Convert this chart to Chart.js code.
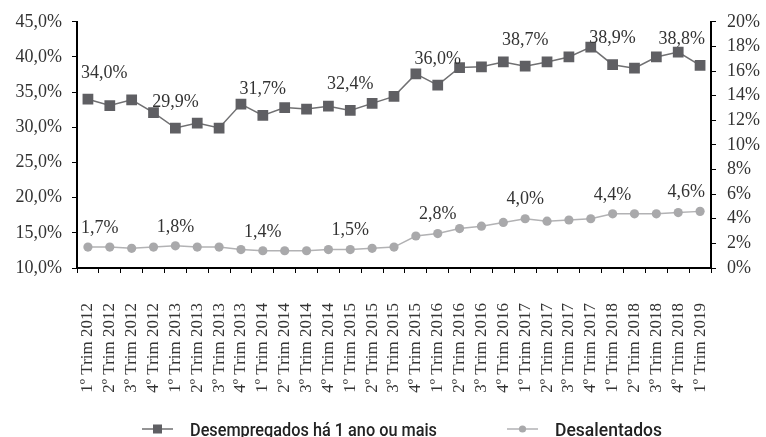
<!DOCTYPE html>
<html>
<head>
<meta charset="utf-8">
<script src="https://cdn.jsdelivr.net/npm/chart.js@4.4.1/dist/chart.umd.min.js"></script>
<style>
  html, body { margin: 0; padding: 0; background: #fff; }
  #wrap { width: 766px; height: 437px; }
</style>
</head>
<body>
<div id="wrap"><canvas id="chart" width="766" height="437"></canvas></div>
<script>
// quarters on the x axis
const categories = [
  "1º Trim 2012", "2º Trim 2012", "3º Trim 2012", "4º Trim 2012",
  "1º Trim 2013", "2º Trim 2013", "3º Trim 2013", "4º Trim 2013",
  "1º Trim 2014", "2º Trim 2014", "3º Trim 2014", "4º Trim 2014",
  "1º Trim 2015", "2º Trim 2015", "3º Trim 2015", "4º Trim 2015",
  "1º Trim 2016", "2º Trim 2016", "3º Trim 2016", "4º Trim 2016",
  "1º Trim 2017", "2º Trim 2017", "3º Trim 2017", "4º Trim 2017",
  "1º Trim 2018", "2º Trim 2018", "3º Trim 2018", "4º Trim 2018",
  "1º Trim 2019",
];

// left axis, %
const desempregados = [
  34.0, 33.1, 33.9, 32.1, 29.9, 30.6, 29.9, 33.3,
  31.7, 32.8, 32.6, 33.0, 32.4, 33.4, 34.4, 37.6,
  36.0, 38.5, 38.6, 39.3, 38.7, 39.3, 40.0, 41.4,
  38.9, 38.4, 40.0, 40.7, 38.8,
];

// right axis, %
const desalentados = [
  1.7, 1.7, 1.6, 1.7, 1.8, 1.7, 1.7, 1.5,
  1.4, 1.4, 1.4, 1.5, 1.5, 1.6, 1.7, 2.6,
  2.8, 3.2, 3.4, 3.7, 4.0, 3.8, 3.9, 4.0,
  4.4, 4.4, 4.4, 4.5, 4.6,
];

// points that carry a value label (first quarter of each year)
const labelledPoints = [0, 4, 8, 12, 16, 20, 24, 28];

const seriesNames = ["Desempregados há 1 ano ou mais", "Desalentados"];

const serif = "'Liberation Serif', 'Times New Roman', serif";
const textColor = "#333333";

function pct1(v) {
  return v.toFixed(1).replace(".", ",") + "%";
}

const valueLabels = {
  id: "valueLabels",
  afterDatasetsDraw(chart) {
    const ctx = chart.ctx;
    const area = chart.chartArea;
    const lift = [26, 19];
    ctx.save();
    ctx.font = "18px " + serif;
    ctx.fillStyle = textColor;
    ctx.textAlign = "center";
    ctx.textBaseline = "middle";
    chart.data.datasets.forEach((ds, i) => {
      const meta = chart.getDatasetMeta(i);
      labelledPoints.forEach((idx) => {
        const pt = meta.data[idx];
        const txt = pct1(ds.data[idx]);
        const w = ctx.measureText(txt).width;
        let x = pt.x;
        x = Math.max(x, area.left + 4 + w / 2);
        x = Math.min(x, area.right - 6 - w / 2);
        ctx.fillText(txt, x, pt.y - lift[i]);
      });
    });
    ctx.restore();
  },
};

// legend drawn under the axis labels: line + marker + name (condensed face)
const bottomLegend = {
  id: "bottomLegend",
  afterDraw(chart) {
    const ctx = chart.ctx;
    const starts = [142, 507];
    const textWidths = [247, 107];
    const y = 429;
    ctx.save();
    chart.data.datasets.forEach((ds, i) => {
      const x0 = starts[i];
      ctx.strokeStyle = ds.borderColor;
      ctx.lineWidth = 1.5;
      ctx.beginPath();
      ctx.moveTo(x0, y);
      ctx.lineTo(x0 + 31, y);
      ctx.stroke();
      ctx.fillStyle = ds.pointBackgroundColor;
      const cx = x0 + 15.5;
      if (ds.pointStyle === "rect") {
        ctx.fillRect(cx - 4.5, y - 4.5, 9, 9);
      } else {
        ctx.beginPath();
        ctx.arc(cx, y, 3.6, 0, Math.PI * 2);
        ctx.fill();
      }
      ctx.fillStyle = "#222222";
      ctx.font = "500 19px Roboto, sans-serif";
      ctx.textAlign = "left";
      ctx.textBaseline = "alphabetic";
      const w = ctx.measureText(ds.label).width;
      const sx = Math.min(1, textWidths[i] / w);
      ctx.save();
      ctx.translate(x0 + 48, 436);
      ctx.scale(sx, 1);
      ctx.fillText(ds.label, 0, 0);
      ctx.restore();
    });
    ctx.restore();
  },
};

const chart = new Chart("chart", {
  type: "line",
  data: {
    labels: categories,
    datasets: [
      {
        label: seriesNames[0],
        data: desempregados,
        yAxisID: "y",
        borderColor: "#707072",
        borderWidth: 1.5,
        pointStyle: "rect",
        pointRadius: 7.6,
        pointBackgroundColor: "#5f5f63",
        pointBorderColor: "#5f5f63",
        pointBorderWidth: 0,
        tension: 0,
      },
      {
        label: seriesNames[1],
        data: desalentados,
        yAxisID: "y1",
        borderColor: "#b2b2b4",
        borderWidth: 1.5,
        pointStyle: "circle",
        pointRadius: 4.6,
        pointBackgroundColor: "#a9a9ab",
        pointBorderColor: "#a9a9ab",
        pointBorderWidth: 0,
        tension: 0,
      },
    ],
  },
  options: {
    responsive: false,
    animation: false,
    layout: { padding: { top: 18, left: 0, right: 0, bottom: 0 } },
    plugins: {
      legend: { display: false },
      tooltip: { enabled: false },
    },
    scales: {
      x: {
        offset: true,
        grid: { drawOnChartArea: false, drawTicks: true, tickLength: 5, color: "#000", offset: true },
        border: { color: "#000", width: 2 },
        ticks: {
          autoSkip: false,
          minRotation: 90,
          maxRotation: 90,
          padding: 30,
          color: textColor,
          font: { family: serif, size: 17 },
        },
        afterFit: (s) => { s.height = 169; },
      },
      y: {
        position: "left",
        min: 10,
        max: 45,
        grid: { drawOnChartArea: false, tickLength: 5, color: "#000" },
        border: { color: "#000", width: 2 },
        ticks: {
          stepSize: 5,
          padding: 10,
          color: textColor,
          font: { family: serif, size: 18 },
          callback: (v) => pct1(v),
        },
        afterFit: (s) => { s.width = 77; },
      },
      y1: {
        position: "right",
        min: 0,
        max: 20,
        grid: { drawOnChartArea: false, tickLength: 5, color: "#000" },
        border: { color: "#000", width: 2 },
        ticks: {
          stepSize: 2,
          padding: 11,
          color: textColor,
          font: { family: serif, size: 18 },
          callback: (v) => v + "%",
        },
        afterFit: (s) => { s.width = 55; },
      },
    },
  },
  plugins: [valueLabels, bottomLegend],
});
</script>
</body>
</html>
